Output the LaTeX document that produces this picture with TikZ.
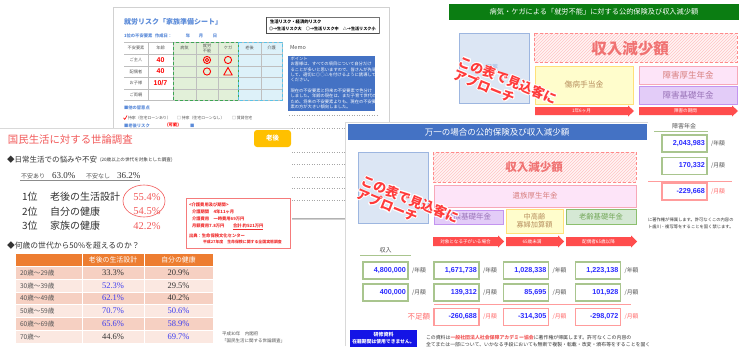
\documentclass[tikz,border=0pt]{standalone}
\usepackage{fontspec}
\setmainfont{Noto Sans CJK JP}
\newfontfamily\numf{Liberation Sans}
\newfontfamily\serifnum{Liberation Serif}
\usetikzlibrary{patterns}
\newcommand\fs[1]{\fontsize{#1pt}{#1pt}\selectfont}
\definecolor{grnhead}{HTML}{0B7D12}
\definecolor{bluehead}{HTML}{4472C4}
\definecolor{bxblue}{HTML}{DCE6F4}
\definecolor{bxbluel}{HTML}{9DB6E0}
\definecolor{hatchbg}{HTML}{FFF4F4}
\definecolor{hatchln}{HTML}{FFC4C4}
\definecolor{hatchbd}{HTML}{FF8A8A}
\definecolor{hatchtx}{HTML}{F07272}
\definecolor{pinkbg}{HTML}{FDE4F8}
\definecolor{pinkbd}{HTML}{F7A8B8}
\definecolor{pinktx}{HTML}{D88080}
\definecolor{purpbg}{HTML}{E3CCF8}
\definecolor{purpbd}{HTML}{C394F0}
\definecolor{purptx}{HTML}{9A74B8}
\definecolor{yelbg}{HTML}{FFFDCC}
\definecolor{yelbd}{HTML}{FFE07A}
\definecolor{yeltx}{HTML}{B89060}
\definecolor{grnbg}{HTML}{D5E8D4}
\definecolor{grnbd}{HTML}{8CBF6E}
\definecolor{grntx}{HTML}{74A85A}
\definecolor{arrred}{HTML}{FF4D4D}
\definecolor{numblue}{HTML}{2B2BFF}
\definecolor{numbd}{HTML}{A9C58E}
\definecolor{redbd}{HTML}{FF9C9C}
\definecolor{redtx}{HTML}{FF6B6B}
\definecolor{apred}{HTML}{FF3B3B}
\definecolor{orhead}{HTML}{ED7D31}
\definecolor{rowa}{HTML}{F6D0C2}
\definecolor{rowb}{HTML}{FBE8E1}
\definecolor{tblblue}{HTML}{3C3CF0}
\definecolor{ttlred}{HTML}{F25A5A}
\definecolor{sheetblue}{HTML}{5B8BD9}
\definecolor{memoblue}{HTML}{4472C4}
\definecolor{gsheet}{HTML}{E2F0D9}
\definecolor{gsheetbd}{HTML}{3DA653}
\definecolor{bsheet}{HTML}{DDF1F9}
\definecolor{bsheetbd}{HTML}{5CC3E6}
\definecolor{txgrey}{HTML}{555555}
\definecolor{txdark}{HTML}{333333}
\definecolor{btnor}{HTML}{FFC000}
\definecolor{kenblue}{HTML}{1414E6}
\definecolor{kaigored}{HTML}{F03030}

\newcommand\arrowbar[6]{%
  \fill[arrred] (#1,#3) -- ({#2-6},#3) -- ({#2-6},{#3-1.5}) -- (#2,{(#3+#4)/2}) -- ({#2-6},{#4+1.5}) -- ({#2-6},#4) -- (#1,#4) -- cycle;
  \node[arrtxt] (#6) at ({(#1+#2-6)/2},{(#3+#4)/2}) {#5};}
\newcommand\hatchbox[4]{%
  \fill[hatchbg] (#1,#2) rectangle (#3,#4);
  \fill[pattern=north east lines, pattern color=hatchln] (#1,#2) rectangle (#3,#4);
  \draw[hatchbd, densely dashed, line width=0.6] (#1,#2) rectangle (#3,#4);}
\newcommand\approach[2]{%
  \foreach \dx/\dy in {0.9/0,-0.9/0,0/0.9,0/-0.9,0.65/0.65,-0.65/0.65,0.65/-0.65,-0.65/-0.65}{%
    \node[apptext,text=white,xshift=\dx pt,yshift=\dy pt] at (#1) {この表で見込客に\\アプローチ};}%
  \node[apptext,text=apred] (#2) at (#1) {この表で見込客に\\アプローチ};}

\begin{document}
\begin{tikzpicture}[x=1pt,y=-1pt,
  every node/.style={inner sep=0pt,outer sep=0pt},
  apptext/.style={font=\fontsize{13pt}{14.5pt}\selectfont\bfseries, align=left, rotate=-22},
  numbox/.style={draw=numbd, line width=1.1pt, fill=white, text=numblue, font=\numf\bfseries\fs{7.2}, text width=41pt, align=right, inner xsep=2pt, minimum height=17pt},
  negbox/.style={numbox, draw=redbd},
  unit/.style={font=\fs{5.8}, text=txgrey, anchor=west},
  negunit/.style={unit, text=redtx},
  arrtxt/.style={font=\fs{4.6}, text=white},
  shtx/.style={font=\fs{4.2}, text=txgrey},
  kaigo/.style={font=\fs{4.3}\bfseries, text=kaigored, anchor=west},
]
\useasboundingbox (0,0) rectangle (739,346);
\fill[white] (0,0) rectangle (739,346);

% ================= sheet (top left) =================
\draw[black!18, fill=white] (113,7) rectangle (389,219);
\node[anchor=west, font=\fs{7}\bfseries, text=sheetblue] (stitle) at (124,22) {就労リスク「家族準備シート」};
\draw[black!55, line width=0.4] (266,17) rectangle (379,33);
\draw[black!70, line width=1.3] (266.5,17) -- (266.5,33.5) -- (379,33.5);
\node[anchor=west, font=\fs{4.3}\bfseries] (sleg1) at (270,21.5) {生活リスク・経済的リスク};
\node[anchor=west, font=\fs{4.1}\bfseries] (sleg2) at (269,28.5) {◎→生活リスク大　○→生活リスク中　△→生活リスク小};
\node[anchor=west, font=\fs{4.3}\bfseries, text=sheetblue] (sfus) at (124,36) {1位の不安要素};
\node[anchor=west, font=\fs{4.3}\bfseries, text=sheetblue] (sdate) at (155,36) {作成日：};
\node[font=\fs{4.3}\bfseries, text=sheetblue] (syear) at (188,36) {年};
\node[font=\fs{4.3}\bfseries, text=sheetblue] (smon) at (201,36) {月};
\node[font=\fs{4.3}\bfseries, text=sheetblue] (sday) at (215,36) {日};
% table
\fill[gsheet] (173,42) rectangle (238,100);
\fill[bsheet] (238,42) rectangle (282,100);
\foreach \y in {42,54,66,77,89,100} \draw[black!25, line width=0.3] (124,\y) -- (282,\y);
\foreach \x in {148,173,196,218,238,261,282} \draw[black!25, line width=0.3] (\x,42) -- (\x,100);
\draw[gsheetbd, densely dashed, line width=0.6] (173,42) rectangle (238,100);
\draw[bsheetbd, densely dashed, line width=0.6] (238,42) rectangle (282,100);
\foreach \xx/\lab [count=\i] in {136/不安要素,160.5/年齢,184.5/病気,207/{就労\\不能},228/ケガ,249.5/老後,271.5/介護}
  \node[shtx, align=center, font=\fontsize{4.2pt}{4.8pt}\selectfont] (sh\i) at (\xx,48) {\lab};
\foreach \yy/\lab [count=\i] in {60/ご主人,71.5/配偶者,83/お子様,94.5/ご両親}
  \node[shtx] (sr\i) at (136,\yy) {\lab};
\node[font=\numf\bfseries\fs{7}, text=red] (sage1) at (160.5,60) {40};
\node[font=\numf\bfseries\fs{7}, text=red] (sage2) at (160.5,71.5) {40};
\node[font=\numf\bfseries\fs{7}, text=red] (sage3) at (160.5,83) {10/7};
\draw[red, line width=0.9] (207,60) circle (3.6);
\draw[red, line width=0.9] (207,60) circle (1.7);
\draw[red, line width=0.9] (228,60) circle (3.6);
\draw[red, line width=0.9] (207,71.5) circle (3.6);
\draw[red, line width=0.9, line join=round] (228,67.5) -- (232.2,75) -- (223.8,75) -- cycle;
\node[anchor=west, font=\fs{4.3}\bfseries, text=sheetblue] (snote) at (124,108) {■他の留意点};
\draw[red, line width=0.6] (123.5,117.8) -- (124.8,119.4) -- (127,115.6);
\node[anchor=west, font=\fs{3.9}, text=txgrey] (sopt1) at (128,118) {持家（住宅ローンあり）};
\node[anchor=west, font=\fs{3.9}, text=txgrey] (sopt2) at (177,118) {□ 持家（住宅ローンなし）};
\node[anchor=west, font=\fs{3.9}, text=txgrey] (sopt3) at (232,118) {□ 賃貸住宅};
\node[anchor=west, font=\fs{4.3}\bfseries, text=sheetblue] (srisk) at (124,126) {■老後リスク};
\node[anchor=west, font=\fs{4.3}\bfseries, text=red] (skanou) at (167,125.5) {(可能)};
\node[anchor=west, font=\fs{4.3}\bfseries, text=sheetblue] (smark) at (190,126) {■};
% memo
\node[anchor=west, font=\fs{5.5}, text=txgrey] (smemo) at (290,48) {Memo};
\fill[memoblue] (288,56) rectangle (375,111);
\node[anchor=north west, font=\fontsize{4.3pt}{5.3pt}\selectfont, text=white, align=left] (smemotx) at (290.5,57) {ポイント\\お客様は、すべての項目について自分だけ\\ることが多いと思いますので、皆さんが先導\\して、適切に◎○△を付けるように誘導して\\ください。\\[5.3pt]現在の不安要素と将来の不安要素で色分け\\しました。年齢の現在は、まだ子育て世代の\\ため、将来の不安要素よりも、現在の不安要\\素の方が大きい傾向しました。};
\foreach \y in {115,128,152,164,177,188,200} \draw[black!35, dotted, line width=0.5] (289,\y) -- (378,\y);
\draw[black!30, line width=1.6] (292,218.5) -- (389,218.5);

% ================= top right doc =================
\fill[grnhead] (449,4) rectangle (739,20);
\node[font=\fs{7.2}, text=white] (trhead) at (594,12) {病気・ケガによる「就労不能」に対する公的保険及び収入減少額};
\draw[bxbluel, fill=bxblue, line width=0.8] (459,33) rectangle (529,103);
\node[font=\fs{6}, text=bxbluel] (trsav) at (492,67) {貯蓄};
\hatchbox{534}{33}{737}{62}
\node[font=\fs{15.5}\bfseries, text=hatchtx] (trgen) at (630,49) {収入減少額};
\draw[yelbd, fill=yelbg, line width=0.8] (535,66) rectangle (633,104);
\node[font=\fs{7.8}, text=yeltx] (trsho) at (584,85) {傷病手当金};
\draw[pinkbd, fill=pinkbg, line width=0.8] (639,66) rectangle (737,84);
\node[font=\fs{8.5}, text=pinktx] (trkou) at (688,75) {障害厚生年金};
\draw[purpbd, fill=purpbg, line width=0.8] (639,86) rectangle (737,104);
\node[font=\fs{8.5}, text=purptx] (trkis) at (688,95) {障害基礎年金};
\arrowbar{535}{634}{107}{115}{1年6ヶ月}{tra1}
\arrowbar{639}{738}{107}{115}{障害の期間}{tra2}
\approach{505.3,86.7}{trapp}
% right column (障害年金)
\node[font=\fs{6}, text=txgrey] (trnen) at (684,126) {障害年金};
\draw[numbd, line width=0.8] (654,131.5) -- (708,131.5);
\node[numbox] (trb1) at (684.5,143.5) {2,043,983};
\node[unit] (tru1) at ([xshift=4pt]trb1.east) {/年額};
\node[numbox] (trb2) at (684.5,166) {170,332};
\node[unit] (tru2) at ([xshift=4pt]trb2.east) {/月額};
\draw[redbd, line width=0.8] (647,181) -- (732,181);
\node[negbox] (trb3) at (684.5,191.5) {-229,668};
\node[negunit] (tru3) at ([xshift=4pt]trb3.east) {/月額};
\node[anchor=west, font=\fs{4.3}, text=txdark] (trcp1) at (648,220) {に著作権が帰属します。許可なくこの内容の};
\node[anchor=west, font=\fs{4.3}, text=txdark] (trcp2) at (648,227) {ト歯川・複写等をすることを固く禁じます。};

% ================= survey doc (left) =================
\fill[white] (0,128) rectangle (292,346);
\draw[black!15, line width=0.4] (0,128) -- (292,128);
\node[anchor=west, font=\fs{10.4}, text=ttlred] (stt) at (8,140) {国民生活に対する世論調査};
\fill[btnor] (254,130) [rounded corners=3] rectangle (291,147);
\node[font=\fs{6.5}\bfseries, text=white] (sbtn) at (272.5,138.5) {老後};
\node[anchor=west, font=\fs{7.5}, text=txdark] (sq1) at (7,160) {◆日常生活での悩みや不安};
\node[anchor=west, font=\fs{4.6}, text=txdark] (sq1b) at (100,160) {(20歳以上の世代を対象とした調査)};
\node[anchor=west, font=\fs{6}, text=txgrey] (sari) at (21,176) {不安あり};
\node[anchor=west, font=\serifnum\fs{9}, text=txdark] (sari2) at (52,176) {63.0\%};
\node[anchor=west, font=\fs{6}, text=txgrey] (snasi) at (86,176) {不安なし};
\node[anchor=west, font=\serifnum\fs{9}, text=txdark] (snasi2) at (117,176) {36.2\%};
\draw[black!45, line width=0.5] (20,180.5) -- (140,180.5);
\foreach \yy/\rk/\lab/\pc [count=\i] in {197/1位/老後の生活設計/55.4\%,211.5/2位/自分の健康/54.5\%,226/3位/家族の健康/42.2\%}{
  \node[anchor=west, font=\fs{10}, text=txdark] (srk\i) at (22,\yy) {\rk};
  \node[anchor=west, font=\fs{10}, text=txdark] (srl\i) at (50,\yy) {\lab};
  \node[font=\serifnum\fs{10.5}, text=ttlred] (srp\i) at (147,\yy) {\pc};
}
\draw[ttlred, line width=0.6] (144,201) ellipse (21 and 16);
\node[anchor=west, font=\fs{7.8}, text=txdark] (sq2) at (7,246) {◆何歳の世代から50\%を超えるのか？};
\fill[orhead] (16,254) rectangle (213,266);
\foreach \ya/\yb/\cc in {266/279/rowa,279/292/rowb,292/304/rowa,304/317/rowb,317/330/rowa,330/343/rowb}
  \fill[\cc] (16,\ya) rectangle (213,\yb);
\foreach \y in {266,279,292,304,317,330} \draw[white, line width=0.8] (16,\y) -- (213,\y);
\foreach \x in {82,144} \draw[white, line width=0.8] (\x,254) -- (\x,343);
\node[font=\fs{6.9}, text=white] (sth1) at (113,260) {老後の生活設計};
\node[font=\fs{6.9}, text=white] (sth2) at (178.5,260) {自分の健康};
\foreach \yc/\age/\pa/\ca/\pb/\cb [count=\i] in {
  272.5/20歳～29歳/33.3\%/txdark/20.9\%/txdark,
  285.5/30歳～39歳/52.3\%/tblblue/29.5\%/txdark,
  298/40歳～49歳/62.1\%/tblblue/40.2\%/txdark,
  310.5/50歳～59歳/70.7\%/tblblue/50.6\%/tblblue,
  323.5/60歳～69歳/65.6\%/tblblue/58.9\%/tblblue,
  336.5/70歳～/44.6\%/txdark/69.7\%/tblblue}{
  \node[anchor=west, font=\fs{6.6}, text=txgrey] (sage\i) at (20,\yc) {\age};
  \node[font=\serifnum\fs{8.5}, text=\ca] (spa\i) at (113,\yc) {\pa};
  \node[font=\serifnum\fs{8.5}, text=\cb] (spb\i) at (178.5,\yc) {\pb};
}
\node[anchor=west, font=\fs{4.5}, text=txgrey] (ssrc1) at (222,334) {平成30年　内閣府};
\node[anchor=west, font=\fs{4.5}, text=txgrey] (ssrc2) at (222,341) {「国民生活に関する世論調査」};
\draw[ttlred!80, fill=white, line width=0.8] (186,198) rectangle (290,248);
\node[kaigo] (sk1) at (189,204.5) {<介護費用及び期間>};
\node[kaigo] (sk2) at (192,211.5) {介護期間　4年11ヶ月};
\node[kaigo] (sk3) at (192,219) {介護費用　一時費用69万円};
\node[kaigo] (sk4) at (192,226.5) {月額費用7.8万円　　\underline{合計 約521万円}};
\node[kaigo] (sk5) at (189,236) {出典：生命保険文化センター};
\node[kaigo, font=\fs{3.9}\bfseries] (sk6) at (203,242) {平成27年度　生命保険に関する全国実態調査};

% ================= 万一 doc =================
\begin{scope}
\clip (345,122) rectangle (648,346);
\fill[white] (345,122) rectangle (648,346);
\draw[black!15] (345.2,346) -- (345.2,122.2) -- (648,122.2);
\fill[bluehead] (348,124) rectangle (647,140);
\node[font=\fs{8.5}, text=white] (mhead) at (497,132) {万一の場合の公的保険及び収入減少額};
\draw[bxbluel, fill=bxblue, line width=0.8] (358,152) rectangle (428,223);
\hatchbox{433}{152}{636}{182}
\node[font=\fs{11.5}\bfseries, text=hatchtx] (mgen) at (534,167) {収入減少額};
\draw[pinkbd, fill=pinkbg, line width=0.8] (434,185) rectangle (636,207);
\node[font=\fs{7.5}, text=pinktx] (mkou) at (535,196) {遺族厚生年金};
\draw[purpbd, fill=purpbg, line width=0.8] (434,210) rectangle (503,224);
\node[font=\fs{7.5}, text=purptx] (mkis) at (468.5,217) {遺族基礎年金};
\draw[yelbd, fill=yelbg, line width=0.8] (506,209) rectangle (563,233);
\node[font=\fontsize{7.2pt}{8.5pt}\selectfont, text=yeltx, align=center] (mchu) at (534.5,221) {中高齢\\寡婦加算額};
\draw[grnbd, fill=grnbg, line width=0.8] (566,209) rectangle (636,224);
\node[font=\fs{7.3}, text=grntx] (mrou) at (601,216.5) {老齢基礎年金};
\arrowbar{433}{504}{237}{246}{対象となる子がいる場合}{ma1}
\arrowbar{506}{564}{237}{246}{65歳未満}{ma2}
\arrowbar{566}{637}{237}{246}{配偶者65歳以降}{ma3}
% numbers
\node[font=\fs{6}, text=txgrey] (minc) at (385.5,250) {収入};
\draw[numbd, line width=0.8] (360,255.5) -- (411,255.5);
\foreach \xc/\va/\vb [count=\i] in {385.5/{4,800,000}/{400,000},456.5/{1,671,738}/{139,312},526/{1,028,338}/{85,695},598/{1,223,138}/{101,928}}{
  \node[numbox] (mya\i) at (\xc,270.5) {\va};
  \node[unit] (myu\i) at ([xshift=4pt]mya\i.east) {/年額};
  \node[numbox] (mmo\i) at (\xc,292.5) {\vb};
  \node[unit] (mmu\i) at ([xshift=4pt]mmo\i.east) {/月額};
}
\draw[redbd, line width=0.8] (434,304.5) -- (631,304.5);
\node[anchor=east, font=\fs{7.5}, text=redtx] (mshort) at (430,317) {不足額};
\foreach \xc/\vc [count=\i] in {456.5/{-260,688},526/{-314,305},598/{-298,072}}{
  \node[negbox] (mng\i) at (\xc,317) {\vc};
  \node[negunit] (mnu\i) at ([xshift=4pt]mng\i.east) {/月額};
}
\fill[kenblue] (350,330) rectangle (417,346.5);
\node[font=\fs{5}\bfseries, text=white] (mken1) at (383.5,334.5) {研修資料};
\node[font=\fs{4.8}\bfseries, text=white] (mken2) at (383.5,341.5) {在籍期間は使用できません。};
\node[anchor=west, font=\fs{4.9}, text=txdark] (mcp1) at (426,338) {この資料は\textcolor{ttlred}{\bfseries 一般社団法人社会保障アカデミー協会}に著作権が帰属します。許可なくこの内容の};
\node[anchor=west, font=\fs{4.9}, text=txdark] (mcp2) at (426,344.5) {全てまたは一部について、いかなる手段においても無断で複製・転載・改変・頒布等をすることを固く禁じます。};
\approach{408,206}{mapp}
\end{scope}
\end{tikzpicture}
\end{document}
